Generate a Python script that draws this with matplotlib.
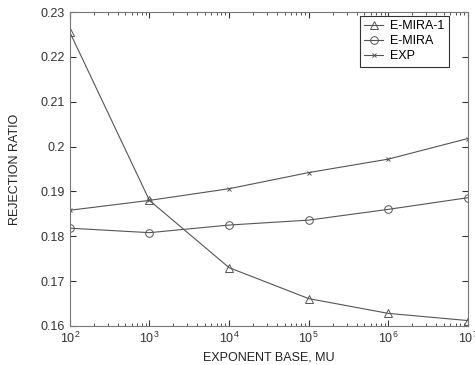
import matplotlib
matplotlib.use('Agg')
import matplotlib.pyplot as plt
import numpy as np

plt.rcParams['font.family'] = ['Liberation Sans', 'DejaVu Sans']

mu = [1e2, 1e3, 1e4, 1e5, 1e6, 1e7]
emira1 = [0.2255, 0.1880, 0.1730, 0.1661, 0.1628, 0.1612]
emira = [0.1818, 0.1808, 0.1825, 0.1836, 0.1860, 0.1886]
exp_ = [0.1858, 0.1880, 0.1906, 0.1942, 0.1972, 0.2018]

col = '#555555'
fig = plt.figure(figsize=(4.75, 3.65), dpi=100)
ax = fig.add_axes([0.147, 0.107, 0.838, 0.860])

ax.plot(mu, emira1, color=col, lw=0.8, marker='^', ms=6, mfc='none', mec=col, mew=0.7, label='E-MIRA-1')
ax.plot(mu, emira, color=col, lw=0.8, marker='o', ms=5.5, mfc='none', mec=col, mew=0.7, label='E-MIRA')
ax.plot(mu, exp_, color=col, lw=0.8, marker='x', ms=3.5, mec=col, mew=0.7, label='EXP')

ax.set_xscale('log')
ax.set_xlim(1e2, 1e7)
ax.set_ylim(0.16, 0.23)
ax.set_yticks([0.16, 0.17, 0.18, 0.19, 0.2, 0.21, 0.22, 0.23])
ax.set_yticklabels(['0.16', '0.17', '0.18', '0.19', '0.2', '0.21', '0.22', '0.23'])
ax.tick_params(which='both', direction='in', top=True, right=True, labelsize=9, colors='#333333')
ax.tick_params(which='major', length=4)
ax.tick_params(which='minor', length=2)
for s in ax.spines.values():
    s.set_color('#777777')
    s.set_linewidth(0.8)

ax.set_xlabel('EXPONENT BASE, MU', fontsize=9, color='#222222')
ax.set_ylabel('REJECTION RATIO', fontsize=9, color='#222222', labelpad=14)

leg = ax.legend(loc='upper right', bbox_to_anchor=(0.953, 0.988), borderaxespad=0,
                fontsize=9, fancybox=False, framealpha=1,
                edgecolor='#333333', handlelength=1.5, handletextpad=0.6,
                borderpad=0.35, labelspacing=0.25)
leg.get_frame().set_linewidth(0.8)

plt.savefig('out.png', dpi=100)
